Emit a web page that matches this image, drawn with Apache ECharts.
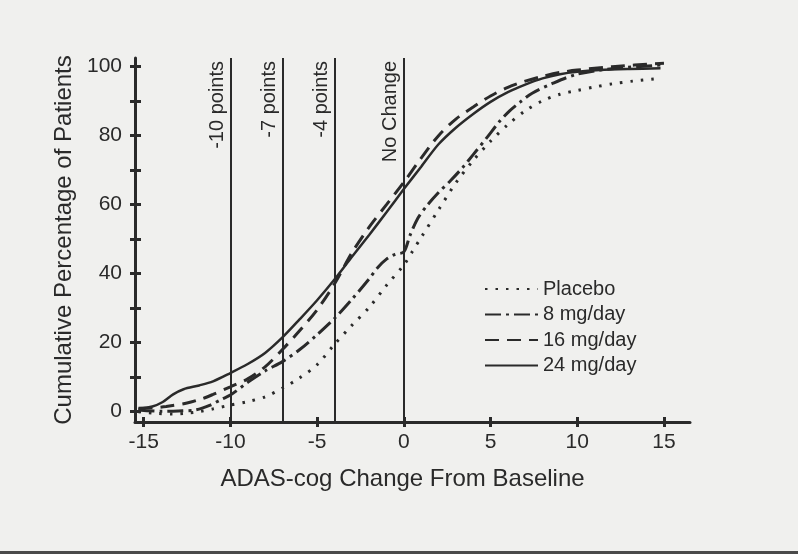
<!DOCTYPE html>
<html>
<head>
<meta charset="utf-8">
<script src="https://cdn.jsdelivr.net/npm/echarts@6/dist/echarts.min.js"></script>
<style>
html,body{margin:0;padding:0;background:#f0f0ee;}
#chart{width:798px;height:558px;}
</style>
</head>
<body>
<div id="chart"></div>
<script>
// ---- data ----
const xTickValues = [-15, -10, -5, 0, 5, 10, 15];
const yTickValues = [0, 10, 20, 30, 40, 50, 60, 70, 80, 90, 100];
const yLabelValues = [0, 20, 40, 60, 80, 100];
const refLinesX = [-10, -7, -4, 0];
const refLineLabels = ['-10 points', '-7 points', '-4 points', 'No Change'];
const seriesNames = ['Placebo', '8 mg/day', '16 mg/day', '24 mg/day'];

const placebo = [[-15.3,0],[-14.3,-0.5],[-13.3,-0.7],[-12.5,-0.4],[-11.8,0],[-11,0.8],[-10,1.9],[-9,2.9],[-8,4.3],[-7,6.8],[-6,9.8],[-5,13.6],[-4,19.5],[-3,25],[-2,30.2],[-1,36.6],[0,42.5],[0.5,46.5],[1,50.5],[2,58.5],[3,66.3],[4,72.8],[5,78.4],[6,83.2],[7,87.2],[8,90.1],[9,92],[10,93.1],[11,94.1],[12,95],[13.2,95.8],[14.8,96.6]];

const mg8 = [[-15.3,0.5],[-14,0.1],[-13,0.2],[-12,0.5],[-11.2,1.8],[-10.5,3.6],[-10,4.8],[-9,8.5],[-8,11.8],[-7,14.5],[-6,18],[-5,22.3],[-4,27],[-3,32.5],[-2,38.5],[-1.5,41.8],[-1,44.2],[-0.5,45.6],[0,46.3],[0.35,51],[0.8,56],[1.3,59.5],[2,63.5],[2.7,67],[3.4,70.8],[4,74.5],[4.8,79.5],[5.5,84],[6.1,87.2],[6.7,89.7],[7.4,92.3],[8.6,95.2],[10,97.8],[12,99.4],[15,100.5]];

const mg16 = [[-15.3,1],[-14.5,1.1],[-13.7,1.5],[-12.5,2.5],[-11.6,3.8],[-11,5],[-10,7.2],[-9,9.5],[-8,13],[-7,18],[-6,23.5],[-5,29.5],[-4,37],[-3,46],[-2,53.5],[-1,60],[0,66.5],[1,73.5],[2,80],[3,84.8],[4,88.3],[5,91.5],[6,94],[7,95.8],[8,97.2],[9,98.3],[10,99],[12,100],[15,101]];

const mg24 = [[-15.3,0.8],[-14.5,1.5],[-13.9,2.8],[-13.3,5],[-12.7,6.5],[-11.8,7.6],[-11,8.8],[-10,11.2],[-9,13.8],[-8,17],[-7,21.5],[-6,26.8],[-5,32.3],[-4,38.3],[-3,44.8],[-2,51.2],[-1,57.8],[0,64.5],[1,71],[2,77.5],[3,82.3],[4,86.3],[5,89.8],[6,92.6],[7,94.8],[8,96.6],[9,97.8],[10,98.5],[11.3,99],[13,99.3],[14.8,99.5]];

// ---- chart ----
const ink = '#2a2a2a';
const font = 'Liberation Sans, Arial, Helvetica, sans-serif';
const chart = echarts.init(document.getElementById('chart'), null, {renderer: 'canvas'});

const X_MIN = -15.5, X_MAX = 16.5, Y_MIN = -3, Y_MAX = 102.5;

function lineSeries(name, data, dash, width) {
  return {
    name: name, type: 'line', data: data, symbol: 'none',
    smooth: 0.3,
    xAxisIndex: 0, yAxisIndex: 0, clip: false, animation: false,
    lineStyle: {color: ink, width: width, type: dash, cap: 'butt'},
    itemStyle: {color: ink}
  };
}

const series = [
  lineSeries(seriesNames[0], placebo, [2.5, 8], 3),
  lineSeries(seriesNames[1], mg8, [16, 5, 3, 5], 3),
  lineSeries(seriesNames[2], mg16, [14, 8], 3),
  lineSeries(seriesNames[3], mg24, 'solid', 2.5)
];

series[0].markLine = {
  silent: true, symbol: ['none', 'none'], animation: false,
  lineStyle: {color: ink, width: 2, type: 'solid'},
  label: {
    show: true, position: 'insideEndTop', distance: 3,
    color: ink, fontFamily: font, fontSize: 20,
    formatter: function (p) { return p.name; }
  },
  data: refLinesX.map(function (x, i) {
    return [{coord: [x, Y_MIN], name: refLineLabels[i]}, {coord: [x, Y_MAX]}];
  })
};

const option = {
  backgroundColor: '#f0f0ee',
  animation: false,
  textStyle: {fontFamily: font},
  grid: {left: 135, right: 108, top: 58, bottom: 136, containLabel: false},
  legend: {
    orient: 'vertical', left: 479, top: 274,
    data: seriesNames, itemWidth: 53, itemHeight: 14, itemGap: 5.5,
    itemStyle: {color: 'transparent', borderWidth: 0, opacity: 0},
    textStyle: {color: ink, fontSize: 20, fontFamily: font, lineHeight: 20}
  },
  xAxis: [{
    type: 'value', min: X_MIN, max: X_MAX, position: 'bottom',
    name: 'ADAS-cog Change From Baseline', nameLocation: 'middle', nameGap: 45,
    nameTextStyle: {color: ink, fontSize: 24, fontFamily: font, padding: [0, 20, 0, 0]},
    axisLine: {show: true, onZero: false, lineStyle: {color: ink, width: 3}},
    axisTick: {show: true, inside: false, length: 5, customValues: xTickValues, lineStyle: {color: ink, width: 3}},
    axisLabel: {show: true, margin: 10, customValues: xTickValues, color: ink, fontSize: 21, fontFamily: font},
    splitLine: {show: false}
  }, {
    type: 'value', min: X_MIN, max: X_MAX, position: 'bottom',
    axisLine: {show: false, onZero: false},
    axisTick: {show: true, inside: true, length: 5, customValues: xTickValues, lineStyle: {color: ink, width: 3}},
    axisLabel: {show: false},
    splitLine: {show: false}
  }],
  yAxis: [{
    type: 'value', min: Y_MIN, max: Y_MAX, position: 'left',
    name: 'Cumulative Percentage of Patients', nameLocation: 'middle', nameGap: 56,
    nameTextStyle: {color: ink, fontSize: 24, fontFamily: font},
    axisLine: {show: true, onZero: false, lineStyle: {color: ink, width: 3}},
    axisTick: {show: true, inside: false, length: 5, customValues: yTickValues, lineStyle: {color: ink, width: 3}},
    axisLabel: {show: true, margin: 13, customValues: yLabelValues, color: ink, fontSize: 21, fontFamily: font},
    splitLine: {show: false}
  }, {
    type: 'value', min: Y_MIN, max: Y_MAX, position: 'left',
    axisLine: {show: false, onZero: false},
    axisTick: {show: true, inside: true, length: 6, customValues: yTickValues, lineStyle: {color: ink, width: 3}},
    axisLabel: {show: false},
    splitLine: {show: false}
  }],
  graphic: [
    {type: 'rect', left: 0, top: 554, shape: {width: 798, height: 4}, style: {fill: '#ffffff'}, silent: true},
    {type: 'rect', left: 0, top: 551, shape: {width: 798, height: 3}, style: {fill: '#4a4a4a'}, silent: true}
  ],
  series: series
};
chart.setOption(option);
</script>
</body>
</html>
